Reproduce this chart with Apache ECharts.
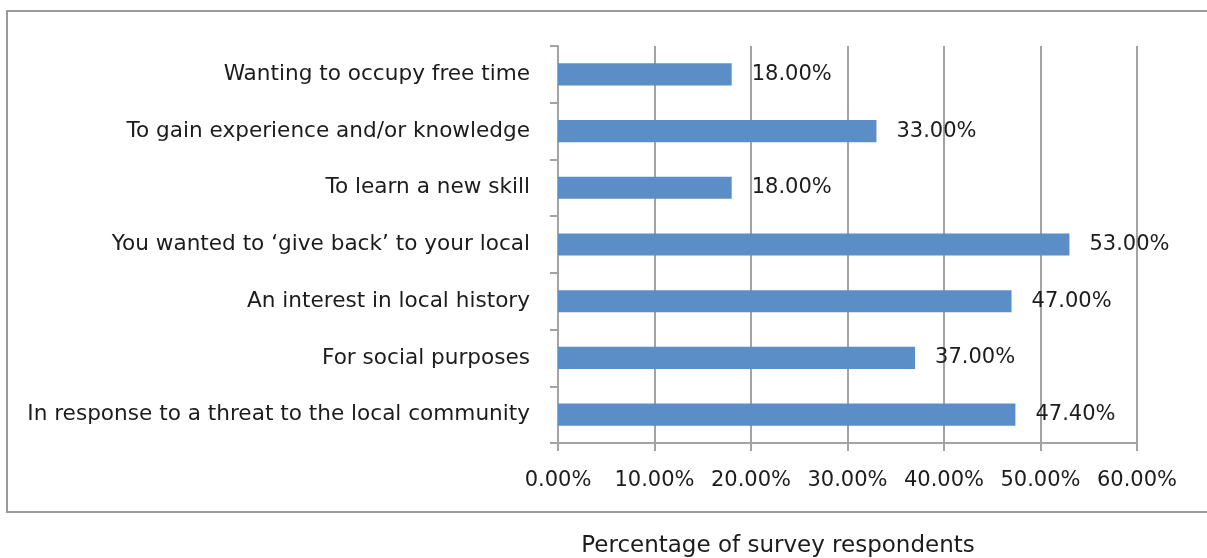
<!DOCTYPE html>
<html>
<head>
<meta charset="utf-8">
<script src="https://cdn.jsdelivr.net/npm/echarts@6/dist/echarts.min.js"></script>
<style>
  html, body { margin: 0; padding: 0; background: #ffffff; }
  #chart { width: 1207px; height: 558px; }
</style>
</head>
<body>
<div id="chart"></div>
<script>
// Reasons for volunteering, top to bottom
const reasons = [
  'Wanting to occupy free time',
  'To gain experience and/or knowledge',
  'To learn a new skill',
  'You wanted to \u2018give back\u2019 to your local',
  'An interest in local history',
  'For social purposes',
  'In response to a threat to the local community'
];
// Share of respondents citing each reason (%)
const shares = [18.0, 33.0, 18.0, 53.0, 47.0, 37.0, 47.4];
const axisMin = 0, axisMax = 60, axisStep = 10;
const axisTitle = 'Percentage of survey respondents';

const FONT = '"DejaVu Sans", sans-serif';
const GRAY = '#a3a3a3';
const INK = '#1c1c1c';

const chart = echarts.init(document.getElementById('chart'), null, { renderer: 'canvas' });
chart.setOption({
  backgroundColor: '#ffffff',
  animation: false,
  grid: { left: 558, right: 70, top: 46, bottom: 115, containLabel: false },
  xAxis: {
    type: 'value',
    min: axisMin, max: axisMax, interval: axisStep,
    axisLine: { show: true, lineStyle: { color: GRAY, width: 2 } },
    axisTick: { show: true, length: 8, lineStyle: { color: GRAY, width: 2 } },
    splitLine: { show: true, lineStyle: { color: GRAY, width: 2 } },
    axisLabel: {
      color: INK, fontFamily: FONT, fontSize: 21, margin: 27,
      formatter: v => v.toFixed(2) + '%'
    }
  },
  yAxis: {
    type: 'category',
    data: reasons,
    inverse: true,
    axisLine: { show: true, lineStyle: { color: GRAY, width: 2 } },
    axisTick: { show: true, length: 8, lineStyle: { color: GRAY, width: 2 } },
    axisLabel: { color: INK, fontFamily: FONT, fontSize: 21.6, margin: 28 }
  },
  series: [{
    type: 'bar',
    data: shares,
    barCategoryGap: '61%',
    itemStyle: { color: '#5b8ec6' },
    label: {
      show: true, position: 'right', distance: 20,
      color: INK, fontFamily: FONT, fontSize: 21,
      formatter: p => p.value.toFixed(2) + '%'
    }
  }],
  graphic: [
    {
      type: 'rect', silent: true, z: -1,
      shape: { x: 7, y: 11, width: 1220, height: 501 },
      style: { fill: 'none', stroke: '#9a9a9a', lineWidth: 2 }
    },
    {
      type: 'text', silent: true,
      x: 778, y: 546,
      style: {
        text: axisTitle, fontFamily: FONT, fontSize: 23, fill: INK,
        align: 'center', verticalAlign: 'middle'
      }
    }
  ]
});
</script>
</body>
</html>
